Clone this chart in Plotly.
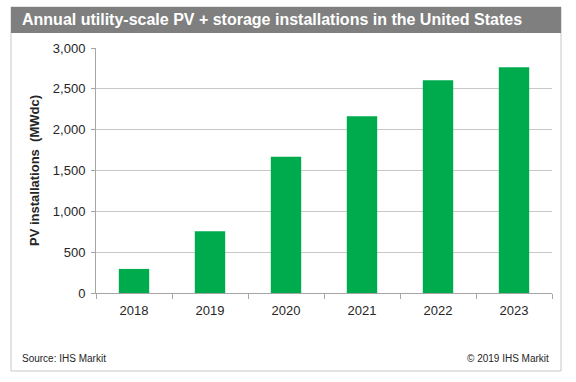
import plotly.graph_objects as go

years = ["2018", "2019", "2020", "2021", "2022", "2023"]
installs_mwdc = [295, 755, 1668, 2164, 2604, 2763]
y_ticks = [0, 500, 1000, 1500, 2000, 2500, 3000]
y_tick_labels = ["0", "500", "1,000", "1,500", "2,000", "2,500", "3,000"]

W, H = 576, 382
L, R, T, B = 96, 552, 48, 293


def px(x):
    return (x - L) / (R - L)


def py(y):
    return (B - y) / (B - T)


fig = go.Figure(
    go.Bar(
        x=years,
        y=installs_mwdc,
        marker=dict(color="#00ab4e", line=dict(width=0)),
        width=0.4,
        hoverinfo="x+y",
    )
)

fig.update_layout(
    width=W,
    height=H,
    margin=dict(l=L, r=W - R, t=T, b=H - B, pad=0, autoexpand=False),
    paper_bgcolor="white",
    plot_bgcolor="white",
    showlegend=False,
    font=dict(family="Arial, Liberation Sans, sans-serif", size=13, color="#262626"),
    xaxis=dict(
        type="category",
        automargin=False,
        showline=True,
        linecolor="#a6a6a6",
        linewidth=1,
        ticks="outside",
        tickson="boundaries",
        ticklen=5,
        tickcolor="#a6a6a6",
        showgrid=False,
        ticklabelstandoff=5,
        tickfont=dict(size=13, color="#262626"),
    ),
    yaxis=dict(
        range=[0, 3000],
        automargin=False,
        tickvals=y_ticks,
        ticktext=y_tick_labels,
        showline=True,
        linecolor="#a6a6a6",
        linewidth=1,
        ticks="outside",
        ticklen=4,
        tickcolor="#a6a6a6",
        showgrid=True,
        gridcolor="#c8c8c8",
        gridwidth=1,
        zeroline=False,
        ticklabelstandoff=3,
        tickfont=dict(size=13, color="#262626"),
        title=dict(
            text="<b>PV installations  (MWdc)</b>",
            font=dict(size=13, color="#262626"),
            standoff=10,
        ),
    ),
    shapes=[
        # outer frame
        dict(type="rect", xref="paper", yref="paper",
             x0=px(11), x1=px(561), y0=py(371), y1=py(7),
             line=dict(color="#c8c8c8", width=1), fillcolor="rgba(0,0,0,0)", layer="below"),
        # title bar
        dict(type="rect", xref="paper", yref="paper",
             x0=px(11), x1=px(561), y0=py(33), y1=py(7),
             line=dict(width=0), fillcolor="#7f7f7f", layer="below"),
    ],
    annotations=[
        dict(text="<b>Annual utility-scale PV + storage installations in the United States</b>",
             xref="paper", yref="paper", x=px(20), y=py(20), xanchor="left", yanchor="middle",
             showarrow=False, font=dict(size=16, color="white")),
        dict(text="Source: IHS Markit", xref="paper", yref="paper",
             x=px(20), y=py(358), xanchor="left", yanchor="middle",
             showarrow=False, font=dict(size=10, color="#262626")),
        dict(text="© 2019 IHS Markit", xref="paper", yref="paper",
             x=px(551), y=py(358), xanchor="right", yanchor="middle",
             showarrow=False, font=dict(size=10, color="#262626")),
    ],
)

fig.write_html(
    "out.html",
    config={"displayModeBar": False},
    post_script="document.body.style.margin='0';document.body.style.padding='0';",
)
